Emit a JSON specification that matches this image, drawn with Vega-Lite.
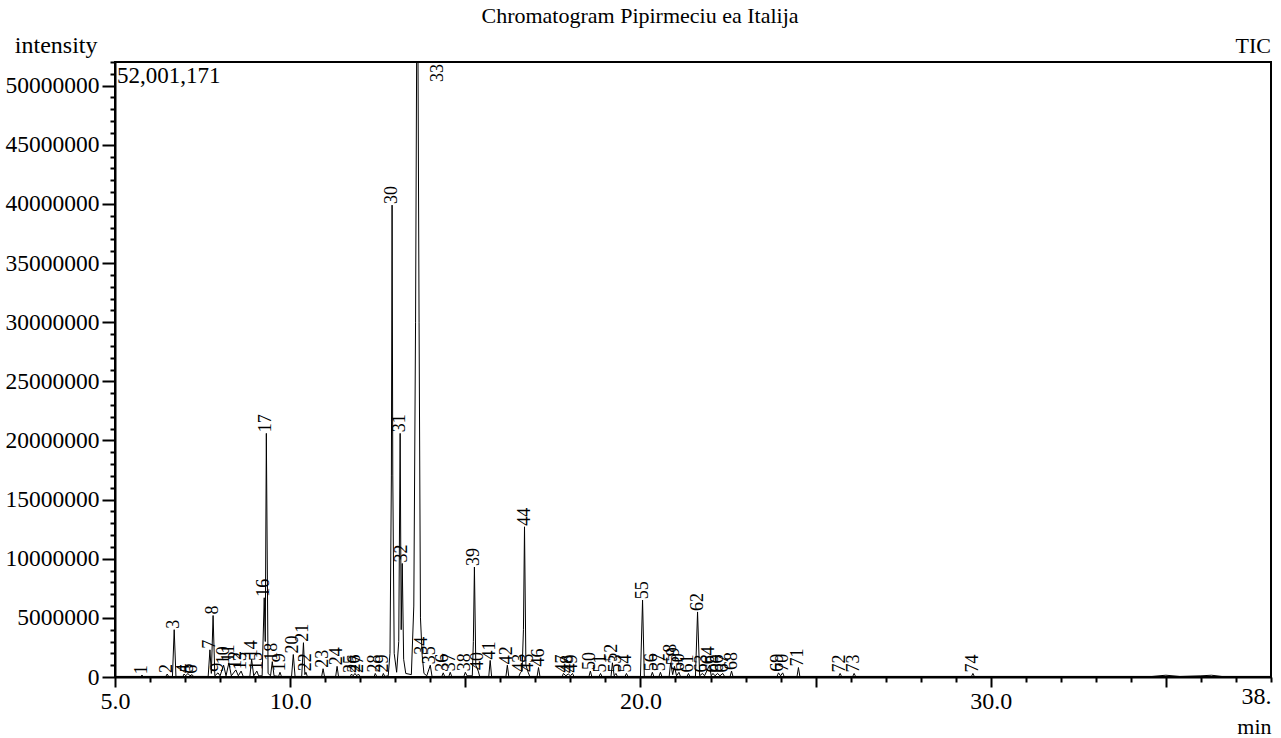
{
  "$schema": "https://vega.github.io/schema/vega-lite/v6.json",
  "width": 1156,
  "height": 615,
  "autosize": {"type": "none"},
  "padding": {"left": 115, "top": 62, "right": 10, "bottom": 61},
  "background": "white",
  "config": {
    "font": "Liberation Serif",
    "view": {"stroke": "black", "strokeWidth": 2},
    "axis": {"labelOverlap": false, "labelBound": false, "labelFlush": false, "grid": false},
    "title": {"font": "Liberation Serif", "fontSize": 22, "fontWeight": "normal", "color": "black"}
  },
  "title": {"text": "Chromatogram Pipirmeciu ea Italija", "anchor": "middle", "dx": -53, "offset": 5},
  "resolve": {"axis": {"x": "independent", "y": "independent"}},
  "datasets": {
    "signal": [
      {"t": 5.0, "i": 50000}, {"t": 5.73, "i": 50000}, {"t": 5.77, "i": 150000}, {"t": 5.81, "i": 50000},
      {"t": 6.45, "i": 50000}, {"t": 6.49, "i": 250000}, {"t": 6.53, "i": 50000},
      {"t": 6.64, "i": 50000}, {"t": 6.69, "i": 4000000}, {"t": 6.74, "i": 50000},
      {"t": 6.94, "i": 50000}, {"t": 6.97, "i": 250000}, {"t": 7.02, "i": 100000}, {"t": 7.08, "i": 300000}, {"t": 7.14, "i": 100000}, {"t": 7.2, "i": 200000}, {"t": 7.24, "i": 50000},
      {"t": 7.66, "i": 50000}, {"t": 7.71, "i": 2300000}, {"t": 7.75, "i": 300000}, {"t": 7.8, "i": 5200000}, {"t": 7.85, "i": 100000},
      {"t": 7.94, "i": 350000}, {"t": 8.0, "i": 100000}, {"t": 8.1, "i": 1000000}, {"t": 8.17, "i": 100000}, {"t": 8.25, "i": 1200000}, {"t": 8.32, "i": 100000},
      {"t": 8.45, "i": 600000}, {"t": 8.52, "i": 100000}, {"t": 8.6, "i": 500000}, {"t": 8.66, "i": 50000},
      {"t": 8.85, "i": 50000}, {"t": 8.9, "i": 1500000}, {"t": 8.96, "i": 100000}, {"t": 9.05, "i": 500000}, {"t": 9.1, "i": 100000},
      {"t": 9.2, "i": 100000}, {"t": 9.26, "i": 6700000}, {"t": 9.29, "i": 3000000}, {"t": 9.32, "i": 20600000}, {"t": 9.37, "i": 300000},
      {"t": 9.44, "i": 100000}, {"t": 9.49, "i": 1300000}, {"t": 9.54, "i": 100000}, {"t": 9.67, "i": 50000}, {"t": 9.71, "i": 400000}, {"t": 9.75, "i": 50000},
      {"t": 10.04, "i": 50000}, {"t": 10.09, "i": 1900000}, {"t": 10.14, "i": 50000},
      {"t": 10.33, "i": 50000}, {"t": 10.38, "i": 2900000}, {"t": 10.42, "i": 200000}, {"t": 10.45, "i": 400000}, {"t": 10.49, "i": 50000},
      {"t": 10.9, "i": 50000}, {"t": 10.94, "i": 700000}, {"t": 10.98, "i": 50000},
      {"t": 11.3, "i": 50000}, {"t": 11.34, "i": 900000}, {"t": 11.38, "i": 50000},
      {"t": 11.72, "i": 50000}, {"t": 11.75, "i": 250000}, {"t": 11.8, "i": 100000}, {"t": 11.85, "i": 300000}, {"t": 11.9, "i": 100000}, {"t": 11.95, "i": 250000}, {"t": 11.99, "i": 50000},
      {"t": 12.4, "i": 50000}, {"t": 12.43, "i": 300000}, {"t": 12.47, "i": 50000}, {"t": 12.63, "i": 50000}, {"t": 12.66, "i": 300000}, {"t": 12.7, "i": 50000},
      {"t": 12.8, "i": 100000}, {"t": 12.85, "i": 2000000}, {"t": 12.89, "i": 17000000}, {"t": 12.91, "i": 39900000}, {"t": 12.93, "i": 17000000}, {"t": 12.97, "i": 2000000},
      {"t": 13.04, "i": 400000}, {"t": 13.1, "i": 3000000}, {"t": 13.14, "i": 20600000}, {"t": 13.17, "i": 4000000}, {"t": 13.2, "i": 9600000}, {"t": 13.24, "i": 1500000}, {"t": 13.3, "i": 300000},
      {"t": 13.46, "i": 200000}, {"t": 13.53, "i": 6000000}, {"t": 13.58, "i": 30000000}, {"t": 13.61, "i": 52001171}, {"t": 13.65, "i": 52001171}, {"t": 13.68, "i": 30000000}, {"t": 13.72, "i": 5000000},
      {"t": 13.77, "i": 1800000}, {"t": 13.82, "i": 300000}, {"t": 13.9, "i": 100000}, {"t": 14.0, "i": 1000000}, {"t": 14.05, "i": 50000},
      {"t": 14.33, "i": 50000}, {"t": 14.37, "i": 350000}, {"t": 14.41, "i": 50000}, {"t": 14.53, "i": 50000}, {"t": 14.57, "i": 400000}, {"t": 14.61, "i": 50000},
      {"t": 14.96, "i": 50000}, {"t": 15.0, "i": 400000}, {"t": 15.05, "i": 100000}, {"t": 15.2, "i": 100000}, {"t": 15.23, "i": 3000000}, {"t": 15.26, "i": 9300000}, {"t": 15.3, "i": 1000000}, {"t": 15.37, "i": 500000}, {"t": 15.41, "i": 50000},
      {"t": 15.67, "i": 50000}, {"t": 15.71, "i": 1400000}, {"t": 15.75, "i": 50000},
      {"t": 16.16, "i": 50000}, {"t": 16.2, "i": 1000000}, {"t": 16.24, "i": 50000},
      {"t": 16.53, "i": 50000}, {"t": 16.57, "i": 350000}, {"t": 16.62, "i": 500000}, {"t": 16.66, "i": 4000000}, {"t": 16.69, "i": 12700000}, {"t": 16.73, "i": 1000000}, {"t": 16.8, "i": 350000}, {"t": 16.84, "i": 50000},
      {"t": 17.05, "i": 50000}, {"t": 17.09, "i": 800000}, {"t": 17.13, "i": 50000},
      {"t": 17.77, "i": 50000}, {"t": 17.8, "i": 300000}, {"t": 17.87, "i": 100000}, {"t": 17.94, "i": 250000}, {"t": 18.0, "i": 100000}, {"t": 18.06, "i": 300000}, {"t": 18.1, "i": 50000},
      {"t": 18.53, "i": 50000}, {"t": 18.57, "i": 500000}, {"t": 18.61, "i": 50000},
      {"t": 18.82, "i": 50000}, {"t": 18.86, "i": 300000}, {"t": 18.9, "i": 50000},
      {"t": 19.16, "i": 50000}, {"t": 19.2, "i": 1200000}, {"t": 19.25, "i": 100000}, {"t": 19.3, "i": 300000}, {"t": 19.34, "i": 50000},
      {"t": 19.56, "i": 50000}, {"t": 19.6, "i": 300000}, {"t": 19.64, "i": 50000},
      {"t": 20.0, "i": 50000}, {"t": 20.06, "i": 6500000}, {"t": 20.11, "i": 50000},
      {"t": 20.3, "i": 50000}, {"t": 20.34, "i": 400000}, {"t": 20.38, "i": 50000},
      {"t": 20.53, "i": 50000}, {"t": 20.57, "i": 400000}, {"t": 20.61, "i": 50000},
      {"t": 20.82, "i": 50000}, {"t": 20.86, "i": 1200000}, {"t": 20.92, "i": 200000}, {"t": 20.97, "i": 900000}, {"t": 21.03, "i": 100000}, {"t": 21.1, "i": 400000}, {"t": 21.14, "i": 50000},
      {"t": 21.33, "i": 50000}, {"t": 21.37, "i": 300000}, {"t": 21.41, "i": 50000},
      {"t": 21.57, "i": 50000}, {"t": 21.63, "i": 5500000}, {"t": 21.69, "i": 100000}, {"t": 21.77, "i": 300000}, {"t": 21.83, "i": 100000}, {"t": 21.97, "i": 1000000}, {"t": 22.02, "i": 100000},
      {"t": 22.07, "i": 300000}, {"t": 22.13, "i": 100000}, {"t": 22.2, "i": 300000}, {"t": 22.27, "i": 100000}, {"t": 22.35, "i": 300000}, {"t": 22.4, "i": 50000},
      {"t": 22.56, "i": 50000}, {"t": 22.6, "i": 500000}, {"t": 22.64, "i": 50000},
      {"t": 23.9, "i": 50000}, {"t": 23.94, "i": 350000}, {"t": 24.0, "i": 100000}, {"t": 24.06, "i": 350000}, {"t": 24.1, "i": 50000},
      {"t": 24.47, "i": 50000}, {"t": 24.51, "i": 800000}, {"t": 24.55, "i": 50000},
      {"t": 25.66, "i": 50000}, {"t": 25.7, "i": 300000}, {"t": 25.74, "i": 50000},
      {"t": 26.06, "i": 50000}, {"t": 26.1, "i": 300000}, {"t": 26.14, "i": 50000},
      {"t": 29.45, "i": 50000}, {"t": 29.49, "i": 300000}, {"t": 29.53, "i": 50000},
      {"t": 34.6, "i": 50000}, {"t": 35.0, "i": 150000}, {"t": 35.4, "i": 50000}, {"t": 36.0, "i": 100000}, {"t": 36.3, "i": 150000}, {"t": 36.6, "i": 50000},
      {"t": 38.0, "i": 50000}
    ],
    "peaks": [
      {"no": 1, "t": 5.77, "h": 150000}, {"no": 2, "t": 6.49, "h": 250000}, {"no": 3, "t": 6.69, "h": 4000000},
      {"no": 4, "t": 6.97, "h": 250000}, {"no": 5, "t": 7.08, "h": 300000}, {"no": 6, "t": 7.2, "h": 200000},
      {"no": 7, "t": 7.71, "h": 2300000}, {"no": 8, "t": 7.8, "h": 5200000}, {"no": 9, "t": 7.94, "h": 350000},
      {"no": 10, "t": 8.1, "h": 1000000}, {"no": 11, "t": 8.25, "h": 1200000}, {"no": 12, "t": 8.45, "h": 600000},
      {"no": 13, "t": 8.6, "h": 500000}, {"no": 14, "t": 8.9, "h": 1500000}, {"no": 15, "t": 9.05, "h": 500000},
      {"no": 16, "t": 9.26, "h": 6700000}, {"no": 17, "t": 9.32, "h": 20600000}, {"no": 18, "t": 9.49, "h": 1300000},
      {"no": 19, "t": 9.71, "h": 400000}, {"no": 20, "t": 10.09, "h": 1900000}, {"no": 21, "t": 10.38, "h": 2900000},
      {"no": 22, "t": 10.45, "h": 400000}, {"no": 23, "t": 10.94, "h": 700000}, {"no": 24, "t": 11.34, "h": 900000},
      {"no": 25, "t": 11.75, "h": 250000}, {"no": 26, "t": 11.85, "h": 300000}, {"no": 27, "t": 11.95, "h": 250000},
      {"no": 28, "t": 12.43, "h": 300000}, {"no": 29, "t": 12.66, "h": 300000}, {"no": 30, "t": 12.91, "h": 39900000},
      {"no": 31, "t": 13.14, "h": 20600000}, {"no": 32, "t": 13.2, "h": 9600000}, {"no": 33, "t": 13.63, "h": 52001171},
      {"no": 34, "t": 13.77, "h": 1800000}, {"no": 35, "t": 14.0, "h": 1000000}, {"no": 36, "t": 14.37, "h": 350000},
      {"no": 37, "t": 14.57, "h": 400000}, {"no": 38, "t": 15.0, "h": 400000}, {"no": 39, "t": 15.26, "h": 9300000},
      {"no": 40, "t": 15.37, "h": 500000}, {"no": 41, "t": 15.71, "h": 1400000}, {"no": 42, "t": 16.2, "h": 1000000},
      {"no": 43, "t": 16.57, "h": 350000}, {"no": 44, "t": 16.69, "h": 12700000}, {"no": 45, "t": 16.8, "h": 350000},
      {"no": 46, "t": 17.09, "h": 800000}, {"no": 47, "t": 17.8, "h": 300000}, {"no": 48, "t": 17.94, "h": 250000},
      {"no": 49, "t": 18.06, "h": 300000}, {"no": 50, "t": 18.57, "h": 500000}, {"no": 51, "t": 18.86, "h": 300000},
      {"no": 52, "t": 19.2, "h": 1200000}, {"no": 53, "t": 19.3, "h": 300000}, {"no": 54, "t": 19.6, "h": 300000},
      {"no": 55, "t": 20.06, "h": 6500000}, {"no": 56, "t": 20.34, "h": 400000}, {"no": 57, "t": 20.57, "h": 400000},
      {"no": 58, "t": 20.86, "h": 1200000}, {"no": 59, "t": 20.97, "h": 900000}, {"no": 60, "t": 21.1, "h": 400000},
      {"no": 61, "t": 21.37, "h": 300000}, {"no": 62, "t": 21.63, "h": 5500000}, {"no": 63, "t": 21.77, "h": 300000},
      {"no": 64, "t": 21.97, "h": 1000000}, {"no": 65, "t": 22.07, "h": 300000}, {"no": 66, "t": 22.2, "h": 300000},
      {"no": 67, "t": 22.35, "h": 300000}, {"no": 68, "t": 22.6, "h": 500000}, {"no": 69, "t": 23.94, "h": 350000},
      {"no": 70, "t": 24.06, "h": 350000}, {"no": 71, "t": 24.51, "h": 800000}, {"no": 72, "t": 25.7, "h": 300000},
      {"no": 73, "t": 26.1, "h": 300000}, {"no": 74, "t": 29.49, "h": 300000}
    ]
  },
  "layer": [
    {
      "data": {"name": "signal"},
      "mark": {"type": "line", "color": "black", "strokeWidth": 1, "clip": true},
      "encoding": {
        "x": {
          "field": "t", "type": "quantitative",
          "scale": {"domain": [5, 38], "nice": false, "zero": false},
          "axis": {
            "orient": "bottom",
            "values": [5,10,15,20,25,30,35,38],
            "labelExpr": "indexof([5,10,20,30], datum.value) >= 0 ? format(datum.value, '.1f') : (datum.value == 38 ? '38.' : '')",
            "labelAlign": {"condition": {"test": "datum.value == 38", "value": "right"}, "value": "center"},
            "tickSize": {"condition": {"test": "datum.value == 38", "value": 5}, "value": 10},
            "labelOverlap": false, "labelFlush": false, "labelBound": false, "grid": false,
            "domainColor": "black", "domainWidth": 2, "tickColor": "black", "tickWidth": 2,
            "labelColor": "black", "labelFont": "Liberation Serif", "labelFontSize": 24, "labelPadding": 2,
            "title": "min", "titleAnchor": "end", "titleAlign": "right", "titleX": 1156, "titleY": 56,
            "titleBaseline": "alphabetic", "titleFontWeight": "normal", "titleFontSize": 22, "titleColor": "black", "titleFont": "Liberation Serif"
          }
        },
        "y": {
          "field": "i", "type": "quantitative",
          "scale": {"domain": [0, 52001171], "nice": false},
          "axis": {
            "orient": "left",
            "values": [0,5000000,10000000,15000000,20000000,25000000,30000000,35000000,40000000,45000000,50000000],
            "format": "d",
            "tickSize": 13,
            "labelOverlap": false, "labelFlush": false, "labelBound": false, "grid": false,
            "domainColor": "black", "domainWidth": 2, "tickColor": "black", "tickWidth": 2,
            "labelColor": "black", "labelFont": "Liberation Serif", "labelFontSize": 23.5, "labelPadding": 3,
            "title": "intensity", "titleAngle": 0, "titleAlign": "right", "titleBaseline": "alphabetic",
            "titleX": -18, "titleY": -10, "titleFontWeight": "normal", "titleFontSize": 24, "titleColor": "black", "titleFont": "Liberation Serif"
          }
        }
      }
    },
    {
      "data": {"name": "peaks"},
      "transform": [{"filter": "datum.no != 33"}],
      "mark": {"type": "text", "angle": 270, "align": "left", "baseline": "middle", "dx": 1, "font": "Liberation Serif", "fontSize": 18, "color": "black"},
      "encoding": {
        "x": {"field": "t", "type": "quantitative",
          "axis": {"orient": "bottom", "values": [6,7,8,9,11,12,13,14,16,17,18,19,21,22,23,24,26,27,28,29,31,32,33,34,36,37], "labels": false, "domain": false, "tickSize": 5, "tickWidth": 2, "tickColor": "black", "title": null, "grid": false}},
        "y": {"field": "h", "type": "quantitative",
          "axis": {"orient": "left", "values": [1000000,2000000,3000000,4000000,6000000,7000000,8000000,9000000,11000000,12000000,13000000,14000000,16000000,17000000,18000000,19000000,21000000,22000000,23000000,24000000,26000000,27000000,28000000,29000000,31000000,32000000,33000000,34000000,36000000,37000000,38000000,39000000,41000000,42000000,43000000,44000000,46000000,47000000,48000000,49000000,51000000,52000000], "labels": false, "domain": false, "tickSize": 5, "tickWidth": 2, "tickColor": "black", "title": null, "grid": false}},
        "text": {"field": "no", "type": "nominal"}
      }
    },
    {
      "data": {"name": "peaks"},
      "transform": [{"filter": "datum.no == 33"}],
      "mark": {"type": "text", "angle": 270, "align": "right", "baseline": "middle", "dx": -2, "dy": 21, "font": "Liberation Serif", "fontSize": 18, "color": "black"},
      "encoding": {
        "x": {"field": "t", "type": "quantitative", "axis": null},
        "y": {"field": "h", "type": "quantitative", "axis": null},
        "text": {"field": "no", "type": "nominal"}
      }
    },
    {
      "data": {"values": [{}]},
      "mark": {"type": "text", "align": "left", "baseline": "top", "dx": 2, "dy": 3, "font": "Liberation Serif", "fontSize": 23, "color": "black"},
      "encoding": {
        "x": {"datum": 5, "type": "quantitative", "axis": null},
        "y": {"datum": 52001171, "type": "quantitative", "axis": null},
        "text": {"value": "52,001,171"}
      }
    },
    {
      "data": {"values": [{}]},
      "mark": {"type": "text", "align": "right", "baseline": "alphabetic", "dx": 0, "dy": -9, "font": "Liberation Serif", "fontSize": 22, "color": "black"},
      "encoding": {
        "x": {"datum": 38, "type": "quantitative", "axis": null},
        "y": {"datum": 52001171, "type": "quantitative", "axis": null},
        "text": {"value": "TIC"}
      }
    }
  ]
}
